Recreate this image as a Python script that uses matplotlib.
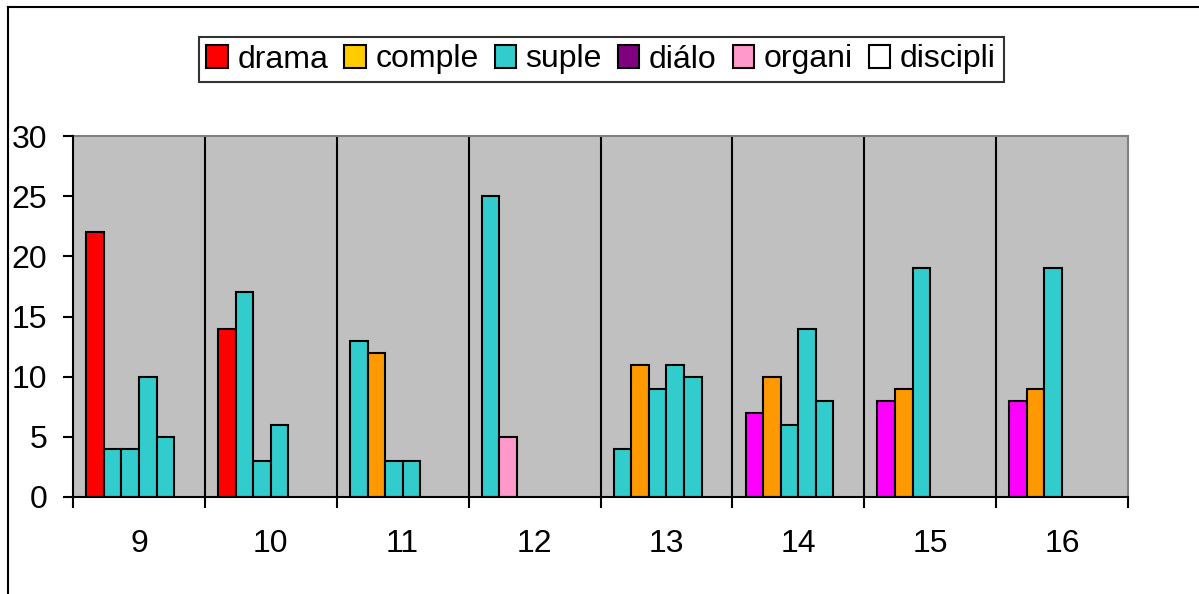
import matplotlib
matplotlib.use("Agg")
import matplotlib.pyplot as plt
import numpy as np
from matplotlib.patches import Patch
from matplotlib.lines import Line2D

# ---- data ----
categories = ['9', '10', '11', '12', '13', '14', '15', '16']
series_names = ['drama', 'comple', 'suple', 'diálo', 'organi', 'discipli']
legend_colors = ['#FF0000', '#FFCC00', '#33CCCC', '#800080', '#FF99CC', '#FFFFFF']

# bar values per slot position within each category group (None = no bar)
slot0 = [22, 14, 13, 25, 4, 7, 8, 8]
slot1 = [4, 17, 12, 5, 11, 10, 9, 9]
slot2 = [4, 3, 3, None, 9, 6, 19, 19]
slot3 = [10, 6, 3, None, 11, 14, None, None]
slot4 = [5, None, None, None, 10, 8, None, None]
slot5 = [None] * 8

# per-bar fill colour codes
slot0_col = ['R', 'R', 'C', 'C', 'C', 'M', 'M', 'M']
slot1_col = ['C', 'C', 'O', 'P', 'O', 'O', 'O', 'O']
slot2_col = ['C', 'C', 'C', '-', 'C', 'C', 'C', 'C']
slot3_col = ['C', 'C', 'C', '-', 'C', 'C', '-', '-']
slot4_col = ['C', '-', '-', '-', 'C', 'C', '-', '-']
slot5_col = ['-'] * 8

color_map = {'R': '#FF0000', 'O': '#FF9900', 'C': '#33CCCC',
             'M': '#FF00FF', 'P': '#FF99CC'}

y_ticks = [0, 5, 10, 15, 20, 25, 30]

plt.rcParams['font.family'] = ['Liberation Sans', 'DejaVu Sans']

W, H = 1199, 594
fig = plt.figure(figsize=(W / 100, H / 100), dpi=100)
fig.patch.set_facecolor('white')

# plot area in pixels
L, R, T, B = 73, 1128, 136, 497
ax = fig.add_axes([L / W, 1 - B / H, (R - L) / W, (B - T) / H])
ax.set_facecolor('#C0C0C0')

slots = [slot0, slot1, slot2, slot3, slot4, slot5]
slot_cols = [slot0_col, slot1_col, slot2_col, slot3_col, slot4_col, slot5_col]
bw = 1.0 / 7.5
x = np.arange(len(categories))
for j, (vals, cols) in enumerate(zip(slots, slot_cols)):
    for i, (v, c) in enumerate(zip(vals, cols)):
        if v is None:
            continue
        xc = x[i] - 0.4 + (j + 0.5) * bw
        ax.bar(xc, v, width=bw, color=color_map[c], edgecolor='black',
               linewidth=1.5, zorder=3)

FS = 23
ax.set_xlim(-0.5, len(categories) - 0.5)
ax.set_ylim(0, 30)
ax.set_yticks(y_ticks)
ax.set_yticklabels([str(t) for t in y_ticks], fontsize=FS)

# category separators / ticks at boundaries
bounds = np.arange(len(categories) + 1) - 0.5
ax.set_xticks(bounds)
ax.set_xticklabels([''] * len(bounds))
ax.set_xticks(x, minor=True)
ax.set_xticklabels(categories, minor=True, fontsize=FS)
ax.tick_params(axis='x', which='minor', length=0, pad=23)
ax.tick_params(axis='x', which='major', direction='out', length=8, width=1.5)
ax.tick_params(axis='y', direction='out', length=7.5, width=1.5, pad=11)
for b in bounds[1:-1]:
    ax.axvline(b, color='black', linewidth=1.5, zorder=2)

for s in ['left', 'bottom']:
    ax.spines[s].set_color('black')
    ax.spines[s].set_linewidth(1.5)
    ax.spines[s].set_zorder(4)
for s in ['top', 'right']:
    ax.spines[s].set_color('#808080')
    ax.spines[s].set_linewidth(1.5)

# legend
handles = [Patch(facecolor=c, edgecolor='black', linewidth=1.5) for c in legend_colors]
leg = fig.legend(handles, series_names, loc='center',
                 bbox_to_anchor=(601 / W, 1 - 59.5 / H), ncol=6, fontsize=23,
                 frameon=True, fancybox=False, edgecolor='black',
                 handlelength=0.67, handleheight=0.75, handletextpad=0.3,
                 columnspacing=0.5, borderpad=0.25, borderaxespad=0)
leg.get_frame().set_linewidth(1.5)

# chart area border (left and top visible)
fig.add_artist(Line2D([8 / W, 8 / W], [0, 1 - 7 / H], color='black',
                      linewidth=1.5, transform=fig.transFigure))
fig.add_artist(Line2D([8 / W, 1], [1 - 7 / H, 1 - 7 / H], color='black',
                      linewidth=1.5, transform=fig.transFigure))

fig.savefig('out.png', dpi=100)
